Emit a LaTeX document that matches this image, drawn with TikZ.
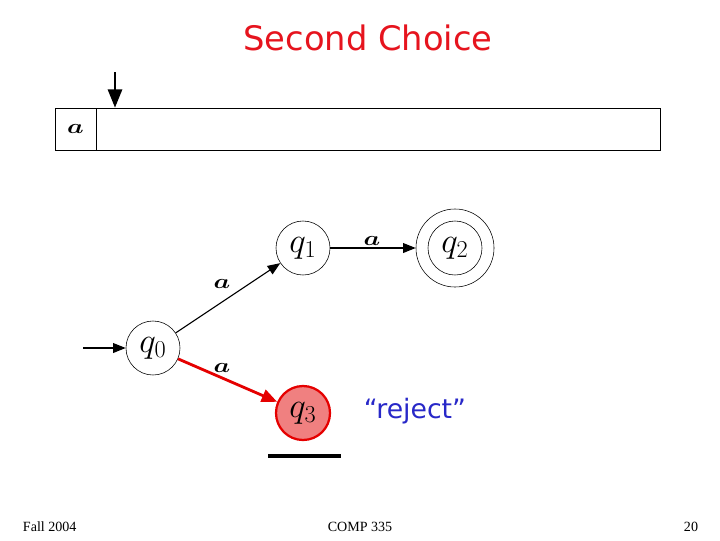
\documentclass[tikz,border=0pt]{standalone}
\usepackage{bm}
\usepackage{fontspec}
\setmainfont{Liberation Serif}
\newfontfamily\titlefont{DejaVu Sans}
\usepackage{xcolor}
\usetikzlibrary{arrows.meta, positioning}
\definecolor{titlered}{RGB}{230,20,30}
\definecolor{rejblue}{RGB}{40,40,200}
\definecolor{deadfill}{RGB}{240,128,128}
\begin{document}
\begin{tikzpicture}[
  x=0.025cm, y=-0.025cm,
  stnode/.style = {circle, draw=black, thin, fill=white,
                   minimum size=1.35cm, inner sep=0, font=\fontsize{26}{28}\selectfont},
  accnode/.style = {circle, draw=black, thin, minimum size=1.95cm, inner sep=0},
  deadnode/.style = {stnode, draw=red!90!black, line width=1.6pt, fill=deadfill},
  trans/.style = {-{Triangle[length=9pt,width=7pt]}, line width=0.8pt},
  badtrans/.style = {-{Triangle[length=11pt,width=9pt]}, line width=2pt, draw=red!90!black},
  sym/.style  = {font=\Large, xscale=1.3},
  foot/.style = {font=\fontsize{10}{12}\selectfont},
]
\useasboundingbox (0,0) rectangle (720,540);
% ── title ──
\node[font=\titlefont\fontsize{24}{26}\selectfont, text=titlered] (title) at (368,38) {Second Choice};
% ── tape and head ──
\node[draw, thin, minimum width=41*0.025cm, minimum height=42*0.025cm, inner sep=0] (cell0) at (75.5,129) {};
\node[draw, thin, minimum width=564*0.025cm, minimum height=42*0.025cm, inner sep=0, right=0pt of cell0] (rest) {};
\node[sym] (sym0) at (cell0) {$\bm{a}$};
\coordinate (headtop) at (115,72);
\draw[-{Triangle[length=13pt,width=10pt]}, line width=1.8pt] (headtop) -- (rest.north west -| headtop);
% ── states ──
\node[stnode] (q0) at (153,348) {$q_0$};
\node[stnode] (q1) at (303,248) {$q_1$};
\node[accnode] (q2) at (455,248) {};
\node[stnode] (q2in) at (q2) {$q_2$};
\node[deadnode] (q3) at (303,413) {$q_3$};
\coordinate (start) at (83,348);
% ── transitions ──
\draw[trans] (start) -- (q0);
\draw[trans] (q0) -- (q1);
\draw[trans] (q1) -- (q2);
\draw[badtrans] (q0) -- (q3);
\node[sym] (l01) at (222,284) {$\bm{a}$};
\node[sym] (l12) at (372,241) {$\bm{a}$};
\node[sym] (l03) at (222,368) {$\bm{a}$};
% ── reject mark ──
\node[font=\titlefont\fontsize{19}{21}\selectfont, text=rejblue] (rej) at (415,411) {“reject”};
\coordinate (barl) at (268,456);
\coordinate (barr) at (341,456);
\draw[line width=2.8pt] (barl) -- (barr);
% ── footer ──
\node[foot, anchor=west] (fl) at (18,527) {Fall 2004};
\node[foot] (fc) at (360,527) {COMP 335};
\node[foot, anchor=east] (fr) at (703,527) {20};
\end{tikzpicture}
\end{document}
